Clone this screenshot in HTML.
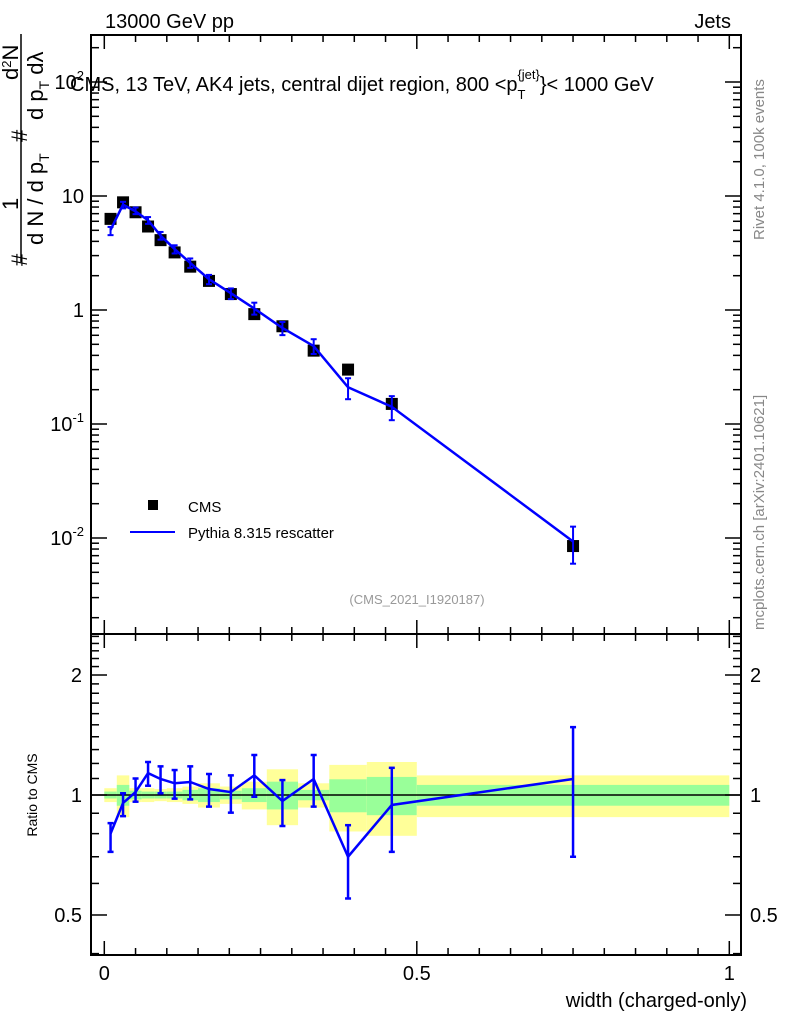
<!DOCTYPE html>
<html><head><meta charset="utf-8"><style>
html,body{margin:0;padding:0;background:#fff;}
svg{display:block;font-family:"Liberation Sans",sans-serif;}
</style></head><body>
<svg id="chart" width="786" height="1024" viewBox="0 0 786 1024" xmlns="http://www.w3.org/2000/svg">
<rect width="786" height="1024" fill="#fff"/>
<g id="bands"></g>
<g id="axes"></g>
<g id="marks"></g>
<text x="105" y="28" font-size="20">13000 GeV pp</text>
<text x="731" y="28" font-size="20" text-anchor="end">Jets</text>
<text x="70" y="91" font-size="20">CMS, 13 TeV, AK4 jets, central dijet region, 800 &lt;p<tspan font-size="13" dy="8">T</tspan><tspan font-size="13" dx="-8" dy="-20">{jet}</tspan><tspan dy="12">}&lt; 1000 GeV</tspan></text>
<text transform="translate(764,240) rotate(-90)" font-size="15" fill="#888">Rivet 4.1.0,  100k events</text>
<text transform="translate(764,630) rotate(-90)" font-size="15" fill="#888">mcplots.cern.ch [arXiv:2401.10621]</text>
<text x="417" y="604" font-size="13" fill="#999" text-anchor="middle">(CMS_2021_I1920187)</text>
<g transform="translate(0,270) rotate(-90)" font-size="22">
<text x="4" y="27">#</text>
<text x="60" y="18">1</text>
<line x1="8" y1="21" x2="236" y2="21" stroke="#000" stroke-width="1.5"/>
<text x="25" y="43">d N / d p<tspan font-size="14" dy="6">T</tspan></text>
<text x="128" y="27">#</text>
<text x="190" y="18">d<tspan font-size="13" dy="-7">2</tspan><tspan dy="7">N</tspan></text>
<text x="150" y="43">d p<tspan font-size="14" dy="6">T</tspan><tspan dy="-6"> d</tspan>λ</text>
</g>
<text transform="translate(37,795) rotate(-90)" font-size="14" text-anchor="middle">Ratio to CMS</text>
<text x="747" y="1007" font-size="20" text-anchor="end">width (charged-only)</text>
<g>
<rect x="148" y="500" width="10" height="10" fill="#000"/>
<text x="188" y="512" font-size="15">CMS</text>
<line x1="130" y1="532" x2="175" y2="532" stroke="#00f" stroke-width="2"/>
<text x="188" y="538" font-size="15">Pythia 8.315 rescatter</text>
</g>
</svg>
<script>
const binEdges=[0,0.02,0.04,0.06,0.08,0.1,0.125,0.15,0.185,0.22,0.26,0.31,0.36,0.42,0.5,1.0];
const xCenters=[0.01,0.03,0.05,0.07,0.09,0.1125,0.1375,0.1675,0.2025,0.24,0.285,0.335,0.39,0.46,0.75];
const cmsValues=[6.3,8.8,7.2,5.4,4.1,3.2,2.4,1.8,1.38,0.92,0.72,0.44,0.30,0.15,0.0085];
const ratioValues=[0.80,0.955,1.017,1.135,1.097,1.07,1.078,1.035,1.017,1.12,0.966,1.097,0.70,0.944,1.097];
const ratioUp=[0.85,1.01,1.10,1.21,1.18,1.155,1.18,1.129,1.12,1.26,1.09,1.26,0.84,1.17,1.48];
const ratioDn=[0.72,0.885,0.962,1.055,1.01,0.979,0.975,0.935,0.903,0.99,0.836,0.935,0.55,0.72,0.70];
const totErr=[0.04,0.12,0.04,0.04,0.035,0.04,0.05,0.07,0.05,0.08,0.16,0.07,0.19,0.21,0.12];
const statErr=[0.02,0.06,0.025,0.02,0.02,0.02,0.03,0.04,0.025,0.04,0.08,0.03,0.095,0.11,0.06];
const mainTicks=[["10^-2",-2],["10^-1",-1],["1",0],["10",1],["10^2",2]];
const ratioTicks=[["0.5",0.5],["1",1],["2",2]];
const xTicks=[["0",0],["0.5",0.5],["1",1]];

const NS="http://www.w3.org/2000/svg";
const L=91,R=741,T=35,MB=634,RB=955;
const X=v=>104.3+v*625;
const YM=v=>310-Math.log10(v)*114;
const YR=v=>795-Math.log10(v)*398.6;
function el(tag,attrs,parent){const e=document.createElementNS(NS,tag);for(const k in attrs)e.setAttribute(k,attrs[k]);parent.appendChild(e);return e;}
const axes=document.getElementById('axes'),marks=document.getElementById('marks'),bands=document.getElementById('bands');

for(let i=0;i<xCenters.length;i++){
 const x0=X(binEdges[i]),x1=X(binEdges[i+1]);
 const y=el('rect',{x:x0,y:YR(1+totErr[i]),width:x1-x0,height:YR(1-totErr[i])-YR(1+totErr[i]),fill:'#ffff99'},bands);
 
 
 const g=el('rect',{x:x0,y:YR(1+statErr[i]),width:x1-x0,height:YR(1-statErr[i])-YR(1+statErr[i]),fill:'#99ff99'},bands);
 
 
}
el('rect',{x:L,y:T,width:R-L,height:MB-T,fill:'none',stroke:'#000','stroke-width':2},axes);
el('rect',{x:L,y:MB,width:R-L,height:RB-MB,fill:'none',stroke:'#000','stroke-width':2},axes);
el('line',{x1:L,y1:YR(1),x2:R,y2:YR(1),stroke:'#000','stroke-width':1.5},axes);
for(let v=0;v<=1.0001;v+=0.05){
 const major=Math.abs(v*10-Math.round(v*10))<1e-6 && Math.round(v*10)%5==0;
 const len=major?14:7;
 for(const [y0,dir] of [[T,1],[MB,-1],[MB,1],[RB,-1]]){
  el('line',{x1:X(v),y1:y0,x2:X(v),y2:y0+dir*len,stroke:'#000','stroke-width':1.5},axes);
 }
}
xTicks.forEach(([t,v])=>{const e=el('text',{x:X(v),y:RB+25,'font-size':20,'text-anchor':'middle'},axes);e.textContent=t;
 
 });
for(let d=-3;d<=2;d++){for(let m=1;m<10;m++){const v=m*Math.pow(10,d);const y=YM(v);if(y<T||y>MB)continue;
 const len=m==1?16:8;
 el('line',{x1:L,y1:y,x2:L+len,y2:y,stroke:'#000','stroke-width':1.5},axes);
 el('line',{x1:R,y1:y,x2:R-len,y2:y,stroke:'#000','stroke-width':1.5},axes);}}
mainTicks.forEach(([t,v])=>{const y=YM(Math.pow(10,v));let e;
 if(t.includes('^')){const [b,p]=t.split('^');e=el('text',{x:84,y:y+7,'font-size':20,'text-anchor':'end'},axes);
  e.innerHTML=b+'<tspan font-size="13" dy="-9">'+p+'</tspan>';}
 else{e=el('text',{x:84,y:y+7,'font-size':20,'text-anchor':'end'},axes);e.textContent=t;}
 
 });
const rminor=[0.4,0.5,0.6,0.7,0.8,0.9,1,1.1,1.2,1.3,1.4,1.5,1.6,1.7,1.8,1.9,2,2.1,2.2,2.3,2.4,2.5];
rminor.forEach(v=>{const y=YR(v);const major=[0.5,1,2].includes(v);const len=major?16:8;
 el('line',{x1:L,y1:y,x2:L+len,y2:y,stroke:'#000','stroke-width':1.5},axes);
 el('line',{x1:R,y1:y,x2:R-len,y2:y,stroke:'#000','stroke-width':1.5},axes);});
ratioTicks.forEach(([t,v])=>{const y=YR(v);
 const a=el('text',{x:82,y:y+7,'font-size':20,'text-anchor':'end'},axes);a.textContent=t;
 
 
 const b=el('text',{x:750,y:y+7,'font-size':20},axes);b.textContent=t;
 
 });
xCenters.forEach((x,i)=>{const r=el('rect',{x:X(x)-6,y:YM(cmsValues[i])-6,width:12,height:12,fill:'#000'},marks);
 
 });
const mc=xCenters.map((x,i)=>cmsValues[i]*ratioValues[i]);
const pl=el('polyline',{points:xCenters.map((x,i)=>X(x)+','+YM(mc[i])).join(' '),fill:'none',stroke:'#00f','stroke-width':2.5},marks);


xCenters.forEach((x,i)=>{const cx=X(x);
 const y1=YM(cmsValues[i]*ratioUp[i]),y2=YM(cmsValues[i]*ratioDn[i]);
 const g=el('g',{stroke:'#00f','stroke-width':2},marks);
 
 
 el('line',{x1:cx,y1:y1,x2:cx,y2:y2},g);el('line',{x1:cx-3,y1:y1,x2:cx+3,y2:y1},g);el('line',{x1:cx-3,y1:y2,x2:cx+3,y2:y2},g);});
const rl=el('polyline',{points:xCenters.map((x,i)=>X(x)+','+YR(ratioValues[i])).join(' '),fill:'none',stroke:'#00f','stroke-width':2.5},marks);


xCenters.forEach((x,i)=>{const cx=X(x);const y1=YR(ratioUp[i]),y2=YR(ratioDn[i]);
 const g=el('g',{stroke:'#00f','stroke-width':2.5},marks);
 
 
 el('line',{x1:cx,y1:y1,x2:cx,y2:y2},g);el('line',{x1:cx-3,y1:y1,x2:cx+3,y2:y1},g);el('line',{x1:cx-3,y1:y2,x2:cx+3,y2:y2},g);});
</script>
</body></html>
